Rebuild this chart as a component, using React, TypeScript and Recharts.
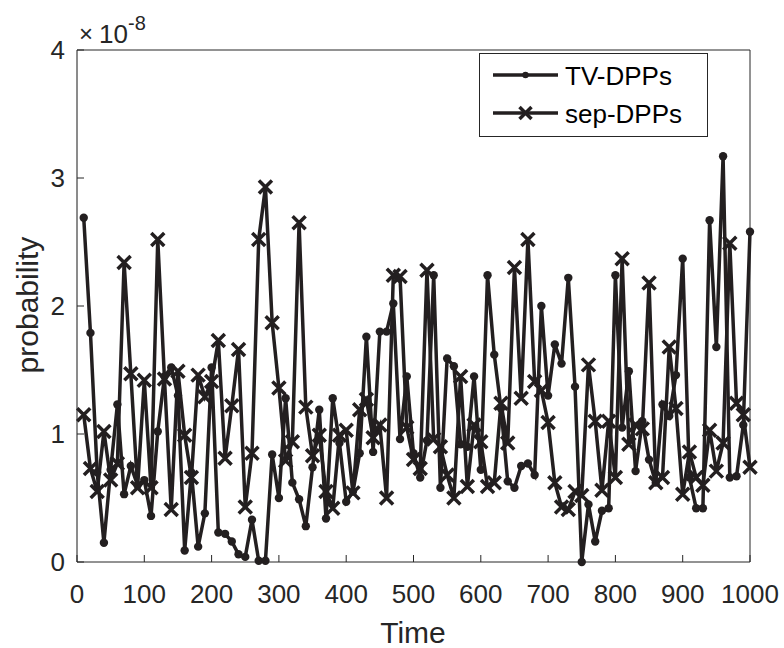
import React from "react";
import { LineChart, Line, XAxis, YAxis, CartesianGrid, Legend, ReferenceLine } from "recharts";

// Time steps
const TIME = [
  10, 20, 30, 40, 50, 60, 70, 80, 90, 100,
  110, 120, 130, 140, 150, 160, 170, 180, 190, 200,
  210, 220, 230, 240, 250, 260, 270, 280, 290, 300,
  310, 320, 330, 340, 350, 360, 370, 380, 390, 400,
  410, 420, 430, 440, 450, 460, 470, 480, 490, 500,
  510, 520, 530, 540, 550, 560, 570, 580, 590, 600,
  610, 620, 630, 640, 650, 660, 670, 680, 690, 700,
  710, 720, 730, 740, 750, 760, 770, 780, 790, 800,
  810, 820, 830, 840, 850, 860, 870, 880, 890, 900,
  910, 920, 930, 940, 950, 960, 970, 980, 990, 1000,
];

// probability values, in units of 1e-8
const TV_DPPS = [
  2.69, 1.79, 0.7, 0.15, 0.72, 1.23, 0.53, 0.75, 0.6, 0.64,
  0.36, 1.02, 1.45, 1.52, 1.3, 0.09, 0.7, 0.12, 0.38, 1.52,
  0.23, 0.22, 0.16, 0.06, 0.04, 0.33, 0.01, 0.01, 0.84, 0.5,
  1.28, 0.62, 0.49, 0.28, 0.74, 1.19, 0.34, 1.28, 0.93, 0.47,
  0.55, 0.85, 1.76, 0.86, 1.8, 1.8, 2.02, 0.96, 1.45, 0.85,
  0.66, 0.95, 2.24, 0.58, 1.59, 1.53, 0.92, 0.9, 1.45, 0.72,
  2.24, 1.62, 1.2, 0.63, 0.58, 0.75, 0.77, 0.68, 2.0, 1.3,
  1.7, 1.55, 2.22, 1.37, 0.0, 0.45, 0.16, 0.4, 0.42, 2.24,
  1.05, 1.49, 0.71, 1.1, 0.8, 0.62, 1.23, 1.14, 1.46, 2.37,
  0.66, 0.42, 0.42, 2.67, 1.68, 3.17, 0.66, 0.67, 1.07, 2.58,
];

const SEP_DPPS = [
  1.15, 0.73, 0.55, 1.02, 0.64, 0.77, 2.34, 1.47, 0.58, 1.42,
  0.58, 2.52, 1.43, 0.41, 1.49, 0.99, 0.66, 1.46, 1.29, 1.41,
  1.73, 0.81, 1.22, 1.66, 0.43, 0.85, 2.52, 2.93, 1.87, 1.36,
  0.79, 0.94, 2.65, 1.21, 0.83, 0.99, 0.55, 0.42, 0.99, 1.03,
  0.54, 1.19, 1.27, 0.97, 1.07, 0.5, 2.24, 2.23, 1.05, 0.8,
  0.73, 2.28, 0.96, 0.9, 0.68, 0.5, 1.45, 0.59, 1.07, 0.94,
  0.59, 0.62, 1.24, 0.93, 2.3, 1.28, 2.52, 1.41, 1.34, 1.09,
  0.62, 0.43, 0.41, 0.55, 0.52, 1.54, 1.1, 0.56, 1.1, 0.66,
  2.37, 0.92, 1.07, 1.04, 2.18, 0.62, 0.66, 1.68, 1.2, 0.53,
  0.86, 0.66, 0.6, 1.03, 0.71, 0.93, 2.49, 1.24, 1.15, 0.74,
];

const X_TICKS = [0, 100, 200, 300, 400, 500, 600, 700, 800, 900, 1000];
const Y_TICKS = [0, 1, 2, 3, 4];
const SERIES_NAMES = ["TV-DPPs", "sep-DPPs"];

const data = TIME.map((t, i) => ({ time: t, tv: TV_DPPS[i], sep: SEP_DPPS[i] }));

const INK = "#231f20";
const AXIS = "#262626";
const FONT = "'Liberation Sans', Arial, Helvetica, sans-serif";

const CrossDot = (props: any) => {
  const { cx, cy } = props;
  if (cx == null || cy == null) return null;
  const s = 6.5;
  return (
    <path
      d={`M${cx - s},${cy - s}L${cx + s},${cy + s}M${cx - s},${cy + s}L${cx + s},${cy - s}`}
      stroke={INK}
      strokeWidth={3.5}
      fill="none"
    />
  );
};

const RoundDot = (props: any) => {
  const { cx, cy } = props;
  if (cx == null || cy == null) return null;
  return <circle cx={cx} cy={cy} r={4.2} fill={INK} stroke="none" />;
};

const LegendBox = () => (
  <svg width={230} height={85} style={{ display: "block" }}>
    <rect x={0.5} y={0.5} width={228} height={83} fill="#fff" stroke={AXIS} strokeWidth={1} />
    {SERIES_NAMES.map((name, i) => {
      const cy = i === 0 ? 22 : 60;
      return (
        <g key={name}>
          <line x1={14} y1={cy} x2={79} y2={cy} stroke={INK} strokeWidth={3.5} />
          {i === 0 ? (
            <circle cx={46.5} cy={cy} r={3.2} fill={INK} />
          ) : (
            <path
              d={`M${40.5},${cy - 6}L${52.5},${cy + 6}M${40.5},${cy + 6}L${52.5},${cy - 6}`}
              stroke={INK}
              strokeWidth={3.5}
              fill="none"
            />
          )}
          <text x={86} y={cy + 9.5} fontFamily={FONT} fontSize={26} fill="#000">
            {name}
          </text>
        </g>
      );
    })}
  </svg>
);

export default function App() {
  return (
    <div style={{ position: "absolute", left: 0, top: 0, width: 784, height: 648, background: "#fff" }}>
      <LineChart
        width={784}
        height={648}
        data={data}
        margin={{ top: 50, right: 34, bottom: 0, left: 0 }}
      >
        <CartesianGrid stroke="#e3e3e3" strokeWidth={1} verticalValues={X_TICKS} horizontalValues={Y_TICKS} />
        <XAxis
          xAxisId="bottom"
          dataKey="time"
          type="number"
          domain={[0, 1000]}
          ticks={X_TICKS}
          height={86}
          tickSize={-7}
          tickMargin={30}
          stroke={AXIS}
          tick={{ fill: AXIS, fontSize: 26, fontFamily: FONT }}
          interval={0}
        />
        <XAxis
          xAxisId="top"
          orientation="top"
          dataKey="time"
          type="number"
          domain={[0, 1000]}
          ticks={X_TICKS}
          height={0}
          tickSize={-7}
          tickFormatter={() => ""}
          stroke={AXIS}
        />
        <YAxis
          yAxisId="left"
          type="number"
          domain={[0, 4]}
          ticks={Y_TICKS}
          width={77}
          tickSize={-7}
          tickMargin={19}
          stroke={AXIS}
          tick={{ fill: AXIS, fontSize: 26, fontFamily: FONT }}
          interval={0}
        />
        <YAxis
          yAxisId="right"
          orientation="right"
          type="number"
          domain={[0, 4]}
          ticks={Y_TICKS}
          width={0}
          tickSize={-7}
          tickFormatter={() => ""}
          stroke={AXIS}
        />
        <ReferenceLine xAxisId="bottom" yAxisId="left" y={4} stroke={AXIS} strokeWidth={1} ifOverflow="visible" />
        <ReferenceLine xAxisId="bottom" yAxisId="left" x={1000} stroke={AXIS} strokeWidth={1} ifOverflow="visible" />
        <Line
          xAxisId="bottom"
          yAxisId="left"
          dataKey="tv"
          name={SERIES_NAMES[0]}
          stroke={INK}
          strokeWidth={3.5}
          dot={<RoundDot />}
          activeDot={false}
          isAnimationActive={false}
        />
        <Line
          xAxisId="bottom"
          yAxisId="left"
          dataKey="sep"
          name={SERIES_NAMES[1]}
          stroke={INK}
          strokeWidth={3.5}
          dot={<CrossDot />}
          activeDot={false}
          isAnimationActive={false}
        />
        <Legend
          layout="vertical"
          align="center"
          verticalAlign="middle"
          content={<LegendBox />}
          wrapperStyle={{ position: "absolute", left: 479, top: 53, width: 230, height: 85 }}
        />
      </LineChart>
      <svg
        width={784}
        height={648}
        style={{ position: "absolute", left: 0, top: 0, pointerEvents: "none" }}
      >
        <text x={79} y={42} fontFamily={FONT} fontSize={24} fill={AXIS}>×</text>
        <text x={99} y={43} fontFamily={FONT} fontSize={26} fill={AXIS}>10</text>
        <text x={128} y={30} fontFamily={FONT} fontSize={20} fill={AXIS}>-8</text>
        <text x={413} y={643} textAnchor="middle" fontFamily={FONT} fontSize={30} fill={AXIS}>Time</text>
        <text
          x={0}
          y={0}
          transform="translate(38,305) rotate(-90)"
          textAnchor="middle"
          fontFamily={FONT}
          fontSize={30}
          fill={AXIS}
        >
          probability
        </text>
      </svg>
    </div>
  );
}
